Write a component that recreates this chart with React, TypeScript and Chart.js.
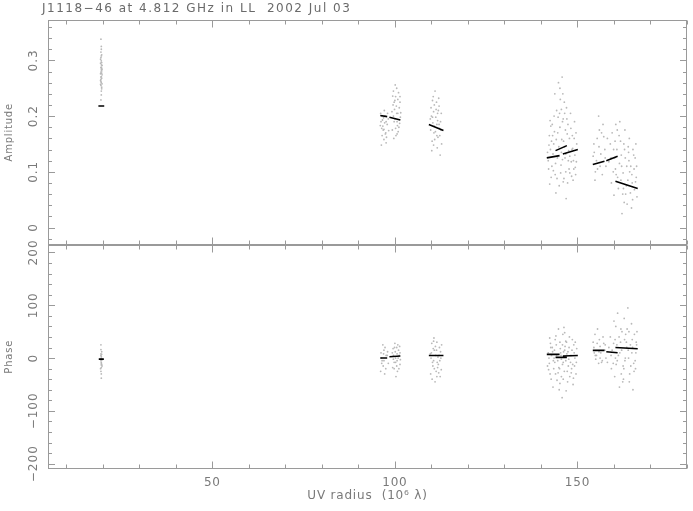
import React, { useEffect, useRef } from 'react';
import { Chart, registerables } from 'chart.js';

Chart.register(...registerables);

// ---------- text ----------
const titleText = 'J1118\u221246 at 4.812 GHz in LL  2002 Jul 03';
const xTitle = 'UV radius  (10\u2076 \u03bb)';
const ampTitle = 'Amplitude';
const phaseTitle = 'Phase';

// ---------- axes ----------
const xMin = 5;
const xMax = 180;
const ampMin = -0.0305;
const ampMax = 0.3725;
const phaseMin = -210;
const phaseMax = 215;
const xTickValues = [50, 100, 150];
const xTickLabels = ['50', '100', '150'];
const ampTickValues = [0, 0.1, 0.2, 0.3];
const ampTickLabels = ['0', '0.1', '0.2', '0.3'];
const phaseTickValues = [-200, -100, 0, 100, 200];
const phaseTickLabels = ['\u2212200', '\u2212100', '0', '100', '200'];

type P = [number, number];

// ---------- amplitude visibilities ----------
const ampCluster1: P[] = [
  [19.5, 0.262], [19.7, 0.281], [19.4, 0.295], [19.6, 0.271], [19.8, 0.258], [19.5, 0.305],
  [19.6, 0.288], [19.7, 0.252], [19.4, 0.276], [19.6, 0.299], [19.5, 0.266], [19.8, 0.284],
  [19.6, 0.245], [19.7, 0.31], [19.5, 0.279], [19.4, 0.257], [19.6, 0.292], [19.7, 0.268],
  [19.5, 0.315], [19.6, 0.26], [19.8, 0.274], [19.5, 0.287], [19.4, 0.302], [19.7, 0.249],
  [19.6, 0.325], [19.5, 0.338], [19.6, 0.238], [19.7, 0.296], [19.5, 0.27], [19.6, 0.283],
  [19.4, 0.264], [19.8, 0.291], [19.6, 0.308], [19.5, 0.255], [19.7, 0.277], [19.6, 0.32],
  [19.5, 0.229], [19.7, 0.286],
];
const ampCluster2: P[] = [
  [96.2, 0.19], [96.8, 0.175], [97.3, 0.2], [96.5, 0.165], [97.9, 0.185], [96.1, 0.205],
  [97.0, 0.158], [98.2, 0.195], [96.7, 0.182], [97.5, 0.17], [96.3, 0.148], [98.0, 0.205],
  [97.2, 0.188], [96.9, 0.197], [97.7, 0.162], [96.4, 0.178], [98.3, 0.174], [97.1, 0.21],
  [96.6, 0.193], [97.6, 0.152], [96.0, 0.183], [97.4, 0.168],
  [99.5, 0.22], [100.2, 0.235], [100.8, 0.205], [99.8, 0.19], [101.2, 0.215], [100.5, 0.25],
  [99.3, 0.175], [101.5, 0.198], [100.0, 0.228], [100.7, 0.183], [99.6, 0.2], [101.0, 0.242],
  [100.3, 0.165], [99.9, 0.212], [101.4, 0.225], [100.6, 0.19], [99.4, 0.236], [100.9, 0.172],
  [100.1, 0.256], [101.3, 0.187], [99.7, 0.16], [100.4, 0.218], [101.6, 0.206], [100.0, 0.195],
  [99.2, 0.208], [100.8, 0.23],
  [96.4, 0.2], [97.6, 0.19], [97.0, 0.176], [99.6, 0.245], [100.5, 0.205], [101.1, 0.18],
  [100.2, 0.178], [99.8, 0.225], [101.4, 0.235], [100.6, 0.168],
];
const ampCluster3: P[] = [
  [110.0, 0.2], [110.8, 0.22], [111.5, 0.185], [112.3, 0.165], [109.8, 0.175], [110.5, 0.235],
  [111.9, 0.21], [112.8, 0.15], [110.2, 0.155], [111.2, 0.198], [112.0, 0.232], [110.7, 0.17],
  [111.6, 0.143], [112.5, 0.19], [109.9, 0.215], [111.0, 0.245], [112.2, 0.178], [110.4, 0.188],
  [111.4, 0.225], [112.7, 0.205], [110.1, 0.138], [111.8, 0.162], [110.6, 0.208], [112.4, 0.13],
  [111.1, 0.172], [109.7, 0.195], [111.7, 0.192], [110.9, 0.158], [112.1, 0.218], [110.3, 0.228],
  [110.3, 0.198], [111.3, 0.212], [112.1, 0.185], [110.8, 0.182], [111.7, 0.205], [112.6, 0.175],
  [110.6, 0.148], [111.5, 0.165],
];
const ampCluster4: P[] = [
  [142.0, 0.12], [143.5, 0.15], [145.2, 0.18], [146.8, 0.1], [148.5, 0.14], [149.6, 0.17],
  [142.8, 0.09], [144.3, 0.21], [146.0, 0.24], [147.5, 0.12], [149.0, 0.105], [142.3, 0.165],
  [143.9, 0.095], [145.6, 0.135], [147.1, 0.195], [148.8, 0.085], [144.8, 0.26], [146.4, 0.225],
  [143.1, 0.185], [145.0, 0.075], [147.8, 0.16], [149.3, 0.13], [142.6, 0.14], [144.0, 0.115],
  [146.2, 0.155], [148.1, 0.205], [145.8, 0.27], [143.6, 0.2], [147.3, 0.08], [149.8, 0.15],
  [142.1, 0.105], [144.6, 0.17], [146.6, 0.125], [148.3, 0.118], [145.4, 0.098], [143.3, 0.132],
  [147.0, 0.215], [149.2, 0.19], [144.1, 0.062], [146.9, 0.052], [145.9, 0.19], [142.9, 0.155],
  [148.6, 0.165], [144.9, 0.145], [147.6, 0.138], [146.3, 0.088], [143.8, 0.24], [145.3, 0.23],
  [148.9, 0.12], [142.4, 0.078], [146.7, 0.175], [144.5, 0.125], [147.9, 0.098], [145.7, 0.158],
  [143.0, 0.11], [149.5, 0.095],
  [141.8, 0.135], [142.7, 0.182], [143.4, 0.102], [144.2, 0.158], [145.1, 0.205], [145.5, 0.112],
  [146.1, 0.195], [146.5, 0.145], [147.2, 0.168], [147.7, 0.105], [148.2, 0.178], [148.7, 0.142],
  [149.1, 0.16], [149.7, 0.118], [143.2, 0.165], [144.4, 0.088], [145.6, 0.212], [146.8, 0.132],
  [147.4, 0.185], [148.4, 0.092], [142.2, 0.148], [143.7, 0.172], [144.7, 0.198], [145.9, 0.122],
  [146.1, 0.082], [147.9, 0.128], [149.4, 0.108], [142.5, 0.192], [145.2, 0.25], [146.5, 0.205],
];
const ampCluster5: P[] = [
  [154.5, 0.15], [155.2, 0.12], [156.0, 0.175], [156.8, 0.095], [157.5, 0.14], [154.8, 0.085],
  [155.8, 0.2], [157.2, 0.163], [155.5, 0.105], [156.4, 0.132], [157.8, 0.11], [154.3, 0.128],
  [159.0, 0.15], [159.8, 0.1], [160.5, 0.185], [161.2, 0.07], [162.0, 0.13], [162.8, 0.045],
  [163.5, 0.11], [164.2, 0.16], [165.0, 0.08], [165.8, 0.125], [166.3, 0.055], [159.5, 0.17],
  [160.2, 0.125], [161.0, 0.09], [161.8, 0.155], [162.5, 0.098], [163.2, 0.06], [164.0, 0.135],
  [164.8, 0.035], [165.5, 0.105], [166.0, 0.15], [159.3, 0.08], [160.8, 0.14], [161.5, 0.115],
  [162.2, 0.025], [163.0, 0.175], [163.8, 0.085], [164.5, 0.062], [165.2, 0.14], [166.1, 0.09],
  [160.0, 0.058], [161.6, 0.19], [162.6, 0.07], [163.6, 0.042], [164.6, 0.11], [165.6, 0.068],
  [160.4, 0.105], [162.9, 0.14], [158.6, 0.118], [158.2, 0.16],
  [154.6, 0.135], [155.4, 0.16], [156.2, 0.11], [157.0, 0.185], [157.6, 0.125], [155.9, 0.145],
  [156.6, 0.17], [154.9, 0.1], [159.2, 0.125], [159.9, 0.14], [160.6, 0.095], [161.4, 0.165],
  [162.1, 0.11], [162.7, 0.15], [163.4, 0.075], [164.1, 0.12], [164.9, 0.095], [165.4, 0.13],
  [166.2, 0.11], [160.9, 0.175], [161.9, 0.085], [163.1, 0.125], [164.3, 0.1], [165.1, 0.05],
  [162.4, 0.06], [163.9, 0.145], [160.3, 0.155], [165.9, 0.082],
];

// ---------- phase visibilities ----------
const phaseCluster1: P[] = [
  [19.5, -5], [19.6, 3], [19.7, -12], [19.5, 8], [19.6, -18], [19.4, -2], [19.7, 12], [19.6, -8],
  [19.5, -25], [19.6, 0], [19.8, -15], [19.5, 5], [19.6, -30], [19.7, -4], [19.5, 16], [19.6, -10],
  [19.4, -20], [19.7, 7], [19.6, -38], [19.5, 25], [19.6, -13], [19.7, -1],
];
const phaseCluster2: P[] = [
  [96.2, 10], [96.8, -15], [97.3, 20], [96.5, -5], [97.9, 5], [96.1, -25], [97.0, 15], [98.2, -10],
  [96.7, 25], [97.5, -20], [96.3, 0], [98.0, 12], [97.2, -30], [96.9, 8],
  [99.5, 18], [100.2, -8], [100.8, 25], [99.8, -20], [101.2, 5], [100.5, -15], [99.3, 10],
  [101.5, -3], [100.0, 28], [100.7, -25], [99.6, -2], [101.0, 15], [100.3, -35], [99.9, 20],
  [101.4, -12], [100.6, 8], [99.4, -18], [100.9, 0], [100.1, 12], [101.3, 22],
  [96.4, -10], [97.6, 5], [97.0, -5], [99.6, 5], [100.5, 20], [101.1, -20], [100.2, 0],
  [99.8, -8], [101.4, 10], [100.6, -5],
];
const phaseCluster3: P[] = [
  [110.0, 10], [110.8, -20], [111.5, 30], [112.3, -5], [109.8, -30], [110.5, 18], [111.9, -12],
  [112.8, 25], [110.2, -40], [111.2, 5], [112.0, -28], [110.7, 38], [111.6, -8], [112.5, 12],
  [109.9, 0], [111.0, -45], [112.2, 20], [110.4, -15], [111.4, 15], [112.7, -22], [110.1, 28],
  [111.8, 2], [110.6, -5], [112.4, -35], [111.1, 22], [109.7, 8],
  [110.3, -8], [111.3, -25], [112.1, 5], [110.8, 15], [111.7, -18], [112.6, 0], [110.6, 32],
  [111.5, -35],
];
const phaseCluster4: P[] = [
  [142.0, 10], [143.5, -20], [145.2, 30], [146.8, -5], [148.5, 15], [149.6, -30], [142.8, -40],
  [144.3, 5], [146.0, 45], [147.5, -15], [149.0, 25], [142.3, -10], [143.9, 35], [145.6, -35],
  [147.1, 8], [148.8, -50], [144.8, 55], [146.4, -25], [143.1, 20], [145.0, -60], [147.8, 40],
  [149.3, 0], [142.6, 28], [144.0, -30], [146.2, 12], [148.1, -8], [145.8, -75], [143.6, 0],
  [147.3, -45], [149.8, 18], [142.1, -22], [144.6, -5], [146.6, 22], [148.3, -28], [145.4, 10],
  [143.3, -55], [147.0, 30], [149.2, -15], [144.1, 42], [146.9, -62], [145.9, -12], [142.9, 5],
  [148.6, 35], [144.9, -18], [147.6, -2], [146.3, 58], [143.8, -8], [145.3, 18], [148.9, -38],
  [142.4, 38],
  [141.8, -15], [142.7, 20], [143.4, -5], [144.2, 25], [145.1, -20], [145.5, 5], [146.1, -40],
  [146.5, 15], [147.2, -25], [147.7, 20], [148.2, 5], [148.7, -12], [149.1, 10], [149.7, -8],
  [143.2, 12], [144.4, -42], [145.6, -2], [146.8, 32], [147.4, 12], [148.4, -20], [142.2, 0],
  [143.7, 15], [144.7, -28], [145.9, 25], [146.1, -8], [147.9, -35], [149.4, 30], [142.5, -30],
  [145.2, -48], [146.5, 48],
];
const phaseCluster5: P[] = [
  [154.5, 20], [155.2, 5], [156.0, 35], [156.8, -5], [157.5, 15], [154.8, 45], [155.8, -10],
  [157.2, 28], [155.5, 55], [156.4, 10], [157.8, 0], [154.3, 30], [156.2, 22], [155.0, -2],
  [159.0, 40], [159.8, -10], [160.5, 60], [161.2, 5], [162.0, -30], [162.8, 75], [163.5, 20],
  [164.2, -45], [165.0, 35], [165.8, -5], [166.3, 50], [159.5, 15], [160.2, -35], [161.0, 85],
  [161.8, 30], [162.5, -15], [163.2, 45], [164.0, 0], [164.8, 65], [165.5, -25], [166.0, 10],
  [159.3, -20], [160.8, 25], [161.5, -55], [162.2, 50], [163.0, -5], [163.8, 95], [164.5, 25],
  [165.2, -60], [166.1, 30], [160.0, 70], [161.6, 10], [162.6, -40], [163.6, 55], [164.6, -15],
  [165.6, 45], [160.4, 0], [162.9, 35], [158.6, 20], [158.2, -8],
  [154.6, 10], [155.4, 28], [156.2, 0], [157.0, 40], [157.6, 25], [155.9, 12], [156.6, -8],
  [154.9, 5], [159.2, 5], [159.9, 28], [160.6, -12], [161.4, 40], [162.1, 15], [162.7, -20],
  [163.4, 30], [164.1, 50], [164.9, 10], [165.4, -10], [166.2, 25], [160.9, -5], [161.9, 55],
  [163.1, 0], [164.3, -30], [165.1, 20], [162.4, -45], [163.9, 15], [160.3, 35], [165.9, -20],
];

// ---------- model segments ----------
const ampModelSegments: P[][] = [
  [[18.8, 0.218], [20.4, 0.218]],
  [[96.0, 0.201], [97.9, 0.199]],
  [[98.5, 0.198], [101.5, 0.193]],
  [[109.3, 0.185], [113.3, 0.174]],
  [[141.6, 0.125], [145.1, 0.129]],
  [[144.0, 0.138], [147.1, 0.147]],
  [[146.0, 0.132], [150.1, 0.14]],
  [[154.2, 0.113], [157.4, 0.119]],
  [[157.9, 0.12], [161.0, 0.128]],
  [[160.4, 0.083], [166.5, 0.07]],
];
const phaseModelSegments: P[][] = [
  [[18.9, -2], [20.3, -2]],
  [[96.0, 0], [97.9, 0]],
  [[98.5, 2.5], [101.5, 4]],
  [[109.3, 5], [113.3, 5]],
  [[141.6, 7], [145.1, 7]],
  [[144.0, 1.3], [147.1, 1.3]],
  [[146.0, 3.8], [150.1, 5]],
  [[154.2, 14.6], [157.4, 14.6]],
  [[157.9, 12], [161.0, 10]],
  [[160.4, 20], [166.5, 17.6]],
];

const FONT = '"DejaVu Sans", "Liberation Sans", sans-serif';
const TEXT_COLOR = '#7a7a7a';
const FRAME_COLOR = '#9a9a9a';

const toXY = (pts: P[]) => pts.map((p) => ({ x: p[0], y: p[1] }));
const joinSegments = (segs: P[][]) => {
  const out: { x: number; y: number | null }[] = [];
  segs.forEach((s, i) => {
    if (i > 0) out.push({ x: s[0][0], y: null });
    s.forEach((p) => out.push({ x: p[0], y: p[1] }));
  });
  return out;
};

const framePlugin = {
  id: 'pgplotFrame',
  beforeDraw(chart: any) {
    chart.ctx.letterSpacing = '0.8px';
  },
  afterDatasetsDraw(chart: any) {
    const ctx: CanvasRenderingContext2D = chart.ctx;
    const xs = chart.scales.x;
    const panels = [
      { s: chart.scales.yA, lo: -1, hi: 18, step: 0.02 },
      { s: chart.scales.yP, lo: -10, hi: 10, step: 20 },
    ];
    const L = chart.chartArea.left;
    const R = chart.chartArea.right;
    ctx.save();
    ctx.strokeStyle = FRAME_COLOR;
    ctx.lineWidth = 1;
    panels.forEach((pn) => {
      const top = Math.round(pn.s.top) + 0.5;
      const bot = Math.round(pn.s.bottom) - 0.5;
      ctx.strokeRect(L + 0.5, top, R - L - 1, bot - top);
      ctx.beginPath();
      for (let i = 1; i <= 18; i++) {
        const px = Math.round(xs.getPixelForValue(i * 10)) + 0.5;
        const len = i % 5 === 0 ? 7 : 4;
        ctx.moveTo(px, top);
        ctx.lineTo(px, top + len);
        ctx.moveTo(px, bot);
        ctx.lineTo(px, bot - len);
      }
      for (let i = pn.lo; i <= pn.hi; i++) {
        const py = Math.round(pn.s.getPixelForValue(i * pn.step)) + 0.5;
        if (py < top || py > bot) continue;
        const len = i % 5 === 0 ? 7 : 4;
        ctx.moveTo(L, py);
        ctx.lineTo(L + len, py);
        ctx.moveTo(R, py);
        ctx.lineTo(R - len, py);
      }
      ctx.stroke();
    });
    ctx.restore();
  },
  afterDraw(chart: any) {
    const ctx: CanvasRenderingContext2D = chart.ctx;
    ctx.save();
    ctx.fillStyle = TEXT_COLOR;
    ctx.font = `12px ${FONT}`;
    (ctx as any).letterSpacing = '1px';
    const drawRot = (vals: number[], labels: string[], s: any) => {
      vals.forEach((v, i) => {
        const py = s.getPixelForValue(v);
        ctx.save();
        ctx.translate(34, py);
        ctx.rotate(-Math.PI / 2);
        ctx.textAlign = 'center';
        ctx.textBaseline = 'middle';
        ctx.fillText(labels[i], 0, 0);
        ctx.restore();
      });
    };
    drawRot(ampTickValues, ampTickLabels, chart.scales.yA);
    drawRot(phaseTickValues, phaseTickLabels, chart.scales.yP);
    ctx.fillStyle = '#6a6a6a';
    (ctx as any).letterSpacing = '1.5px';
    ctx.textAlign = 'left';
    ctx.textBaseline = 'alphabetic';
    ctx.fillText(titleText, 42, 12);
    ctx.restore();
  },
};

export default function App() {
  const ref = useRef<HTMLCanvasElement | null>(null);
  useEffect(() => {
    if (!ref.current) return;
    const ampPoints = toXY([...ampCluster1, ...ampCluster2, ...ampCluster3, ...ampCluster4, ...ampCluster5]);
    const phasePoints = toXY([
      ...phaseCluster1, ...phaseCluster2, ...phaseCluster3, ...phaseCluster4, ...phaseCluster5,
    ]);
    const lineStyle = {
      type: 'line' as const,
      borderColor: '#000000',
      borderWidth: 1.6,
      pointRadius: 0,
      spanGaps: false,
      fill: false,
      tension: 0,
    };
    const dotStyle = {
      type: 'scatter' as const,
      pointRadius: 0.9,
      pointBackgroundColor: '#b9b9b9',
      pointBorderWidth: 0,
      borderWidth: 0,
    };
    const yTitle = (text: string) => ({
      display: true,
      text,
      color: TEXT_COLOR,
      font: { family: FONT, size: 10 },
      padding: { top: 3, bottom: 0 },
    });
    const chart = new Chart(ref.current, {
      type: 'scatter',
      data: {
        datasets: [
          { ...lineStyle, label: 'amp model', data: joinSegments(ampModelSegments), yAxisID: 'yA' },
          { ...lineStyle, label: 'phase model', data: joinSegments(phaseModelSegments), yAxisID: 'yP' },
          { ...dotStyle, label: 'amplitude', data: ampPoints, yAxisID: 'yA' },
          { ...dotStyle, label: 'phase', data: phasePoints, yAxisID: 'yP' },
        ] as any,
      },
      options: {
        animation: false,
        responsive: false,
        devicePixelRatio: 1,
        layout: { padding: { top: 20, left: 0, right: 6, bottom: 0 } },
        plugins: {
          legend: { display: false },
          tooltip: { enabled: false },
          title: { display: false },
        },
        scales: {
          yP: {
            type: 'linear',
            position: 'left',
            stack: 'panels',
            stackWeight: 1,
            min: phaseMin,
            max: phaseMax,
            grid: { display: false, drawTicks: false },
            border: { display: false },
            ticks: { display: false },
            title: yTitle(phaseTitle),
            afterFit: (s: any) => {
              s.width = 48;
            },
          },
          yA: {
            type: 'linear',
            position: 'left',
            stack: 'panels',
            stackWeight: 1,
            min: ampMin,
            max: ampMax,
            grid: { display: false, drawTicks: false },
            border: { display: false },
            ticks: { display: false },
            title: yTitle(ampTitle),
            afterFit: (s: any) => {
              s.width = 48;
            },
          },
          x: {
            type: 'linear',
            position: 'bottom',
            min: xMin,
            max: xMax,
            grid: { display: false, drawTicks: false },
            border: { display: false },
            afterBuildTicks: (s: any) => {
              s.ticks = xTickValues.map((v) => ({ value: v }));
            },
            ticks: {
              color: TEXT_COLOR,
              font: { family: FONT, size: 12 },
              padding: 7,
              autoSkip: false,
              maxRotation: 0,
              callback: (v: any) => {
                const i = xTickValues.indexOf(Number(v));
                return i >= 0 ? xTickLabels[i] : '';
              },
            },
            title: {
              display: true,
              text: xTitle,
              color: TEXT_COLOR,
              font: { family: FONT, size: 12 },
              padding: { top: 0, bottom: 8 },
            },
            afterFit: (s: any) => {
              s.height = 42;
            },
          },
        } as any,
      },
      plugins: [framePlugin],
    });
    return () => chart.destroy();
  }, []);
  return (
    <div style={{ position: 'fixed', left: 0, top: 0, width: 693, height: 511, background: '#fff' }}>
      <canvas ref={ref} width={693} height={511} style={{ width: 693, height: 511, display: 'block' }} />
    </div>
  );
}
